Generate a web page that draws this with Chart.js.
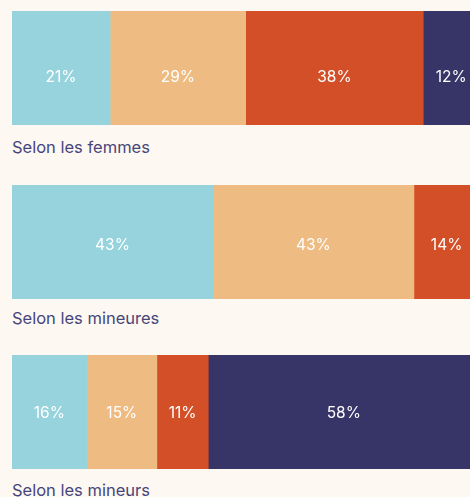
<!DOCTYPE html>
<html lang="fr">
<head>
<meta charset="utf-8">
<script src="https://cdn.jsdelivr.net/npm/chart.js@4/dist/chart.umd.min.js"></script>
<style>
  html, body { margin: 0; padding: 0; background: #fdf8f2; overflow: hidden; }
  body { width: 470px; height: 497px; position: relative; }
  .bloc { position: absolute; left: 0; width: 470px; }
  .barre { position: relative; width: 470px; height: 114px; }
  .legende {
    margin: 11px 0 0 12px;
    font-family: "Inter", "Noto Sans", sans-serif;
    font-size: 16.5px;
    color: #47467a;
    line-height: 22px;
  }
</style>
</head>
<body>

<div class="bloc" style="top:11px"><div class="barre"><canvas id="c0"></canvas></div><div class="legende"></div></div>
<div class="bloc" style="top:185px"><div class="barre"><canvas id="c1"></canvas></div><div class="legende" style="margin-top:8px"></div></div>
<div class="bloc" style="top:355px"><div class="barre"><canvas id="c2"></canvas></div><div class="legende" style="margin-top:10px"></div></div>

<script>
// groupes interrogés
var categories = ['Selon les femmes', 'Selon les mineures', 'Selon les mineurs'];

// parts en %, une liste par segment
var serieBleue = [21, 43, 16];
var serieSable = [29, 43, 15];
var serieRouge = [38, 14, 11];
var serieMarine = [12, 0, 58];

var couleurs = ['#97d3dd', '#eebc82', '#d24f27', '#373567'];
var series = [serieBleue, serieSable, serieRouge, serieMarine];

// décalage vertical du texte dans chaque barre
var decalages = [9, 3, 1];

// écrit le pourcentage au milieu de chaque segment
var etiquettes = {
  id: 'etiquettes',
  afterDatasetsDraw: function(chart, args, opts) {
    var ctx = chart.ctx;
    ctx.save();
    ctx.fillStyle = '#ffffff';
    ctx.font = '15.5px Inter, "Noto Sans", sans-serif';
    ctx.textAlign = 'center';
    ctx.textBaseline = 'middle';
    chart.data.datasets.forEach(function(ds, i) {
      var v = ds.data[0];
      if (!v) return;
      var bar = chart.getDatasetMeta(i).data[0];
      var x = (bar.base + bar.x) / 2;
      ctx.fillText(v + '%', x, bar.y + opts.dy);
    });
    ctx.restore();
  }
};

categories.forEach(function(cat, k) {
  document.querySelectorAll('.legende')[k].textContent = cat;

  new Chart(document.getElementById('c' + k), {
    type: 'bar',
    data: {
      labels: [cat],
      datasets: series.map(function(s, i) {
        return {
          data: [s[k]],
          backgroundColor: couleurs[i],
          borderWidth: 0,
          barPercentage: 1,
          categoryPercentage: 1
        };
      })
    },
    options: {
      indexAxis: 'y',
      responsive: true,
      maintainAspectRatio: false,
      animation: false,
      layout: { padding: { left: 12, right: 0, top: 0, bottom: 0 } },
      plugins: {
        legend: { display: false },
        tooltip: { enabled: false },
        etiquettes: { dy: decalages[k] }
      },
      scales: {
        x: { stacked: true, min: 0, max: 98, display: false },
        y: { stacked: true, display: false }
      }
    },
    plugins: [etiquettes]
  });
});
</script>
</body>
</html>
